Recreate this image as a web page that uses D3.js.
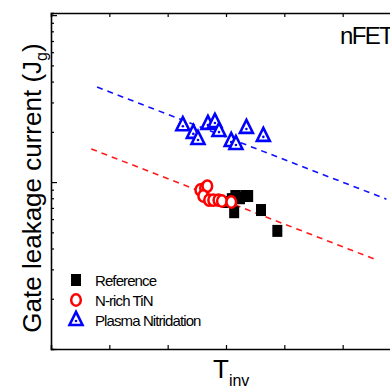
<!DOCTYPE html>
<meta charset="utf-8">
<script src="https://d3js.org/d3.v7.min.js"></script>
<html>
<head>
<style>
  body { margin: 0; background: #fff; }
  svg { font-family: Arial, "Liberation Sans", sans-serif; }
</style>
</head>
<body>
<div id="chart"></div>
<script>
// data (x in tick units, y in decades above the bottom line)
var refX = [3.02, 3.10, 3.16, 3.24, 3.14, 3.33, 3.38, 3.60, 3.88];
var refY = [7.6, 7.9, 8.25, 8.0, 6.6, 8.25, 8.25, 6.8, 5.1];

var tinX = [2.56, 2.64, 2.68, 2.61, 2.71, 2.78, 2.87, 2.93, 3.09];
var tinY = [8.96, 9.2, 9.46, 8.25, 7.8, 7.8, 7.8, 7.7, 7.6];

var plasmaX = [2.26, 2.44, 2.52, 2.69, 2.81, 2.88, 3.09, 3.17, 3.35, 3.64];
var plasmaY = [21.9, 19.7, 18.1, 22.3, 22.9, 20.2, 17.6, 16.9, 21.1, 18.9];

// dashed guide lines, end points
var plasmaFitX = [0.79, 5.75];
var plasmaFitY = [37.1, 7.9];
var tinFitX = [0.69, 5.55];
var tinFitY = [15.8, 3.45];

var xTicks = [1, 2, 3, 4, 5];
var legendLabels = ["Reference", "N-rich TiN", "Plasma Nitridation"];

var width = 390, height = 390;
var margin = {top: 13, left: 51, bottom: 349, right: 401};

var svg = d3.select("#chart")
  .append("svg")
    .attr("width", width)
    .attr("height", height);

var x = d3.scaleLinear().domain([0, 6]).range([margin.left, margin.right]);
var y = d3.scaleLog().domain([1, 103]).range([margin.bottom, margin.top]);

// log ticks: majors at decades, minors in between
var yTicks = [];
[1, 10].forEach(function(d) {
  for (var k = 1; k <= 9; k++) yTicks.push(d * k);
});
yTicks.push(100);

function isMajor(v) { return Math.abs(Math.log10(v) - Math.round(Math.log10(v))) < 1e-6; }

var plot = svg.append("g");

// axes, ticks pointing inward
plot.append("g")
  .attr("transform", "translate(0," + margin.bottom + ")")
  .call(d3.axisBottom(x).tickValues(xTicks).tickSize(-4).tickFormat(""));
plot.append("g")
  .attr("transform", "translate(0," + margin.top + ")")
  .call(d3.axisTop(x).tickValues(xTicks).tickSize(-4).tickFormat(""));

var yAxis = plot.append("g")
  .attr("transform", "translate(" + margin.left + ",0)")
  .call(d3.axisLeft(y).tickValues(yTicks).tickSize(-3).tickFormat(""));
yAxis.selectAll(".tick line")
  .attr("x2", function(d) { return isMajor(d) ? 6 : 3; });

plot.append("g")
  .attr("transform", "translate(" + margin.right + ",0)")
  .call(d3.axisRight(y).tickValues(yTicks).tickSize(-3).tickFormat(""));

plot.selectAll(".domain")
  .attr("stroke", "#000")
  .attr("stroke-width", 1.6);
plot.selectAll(".tick line")
  .attr("stroke", "#000")
  .attr("stroke-width", 1.2);

// dashed trend lines
var line = d3.line()
  .x(function(d) { return x(d[0]); })
  .y(function(d) { return y(d[1]); });

svg.append("path")
  .datum(d3.zip(plasmaFitX, plasmaFitY))
  .attr("d", line)
  .attr("fill", "none")
  .attr("stroke", "#1010ff")
  .attr("stroke-width", 1.6)
  .attr("stroke-dasharray", "6,5");

svg.append("path")
  .datum(d3.zip(tinFitX, tinFitY))
  .attr("d", line)
  .attr("fill", "none")
  .attr("stroke", "#ff1a1a")
  .attr("stroke-width", 1.6)
  .attr("stroke-dasharray", "6,5");

// markers
function drawSquare(g, cx, cy) {
  g.append("rect")
    .attr("x", cx - 5).attr("y", cy - 6)
    .attr("width", 10).attr("height", 12)
    .attr("fill", "#000");
}
function drawCircle(g, cx, cy) {
  g.append("ellipse")
    .attr("cx", cx).attr("cy", cy)
    .attr("rx", 4.8).attr("ry", 5.7)
    .attr("fill", "#fff")
    .attr("stroke", "#ff0000")
    .attr("stroke-width", 2.5);
}
function drawTriangle(g, cx, cy) {
  var w = 13, h = 13;
  g.append("path")
    .attr("d", "M" + cx + "," + (cy - h * 0.62) +
               "L" + (cx + w / 2) + "," + (cy + h * 0.38) +
               "L" + (cx - w / 2) + "," + (cy + h * 0.38) + "Z")
    .attr("fill", "#fff")
    .attr("stroke", "#0000ff")
    .attr("stroke-width", 2.6)
    .attr("stroke-linejoin", "miter");
  g.append("circle")
    .attr("cx", cx).attr("cy", cy + 1)
    .attr("r", 1.3)
    .attr("fill", "#0000ff");
}

var marks = svg.append("g");
refX.forEach(function(d, i) { drawSquare(marks, x(d), y(refY[i])); });
tinX.forEach(function(d, i) { drawCircle(marks, x(d), y(tinY[i])); });
plasmaX.forEach(function(d, i) { drawTriangle(marks, x(d), y(plasmaY[i])); });

// legend
var legend = svg.append("g").attr("transform", "translate(76,280)");
var drawers = [drawSquare, drawCircle, drawTriangle];
legendLabels.forEach(function(label, i) {
  drawers[i](legend, 0, i * 20);
  legend.append("text")
    .attr("x", 19)
    .attr("y", i * 20 + 5.5)
    .attr("font-size", 15)
    .attr("letter-spacing", "-0.9px")
    .attr("fill", "#000")
    .text(label);
});

// nFET label
svg.append("text")
  .attr("x", 340)
  .attr("y", 44)
  .attr("font-size", 24)
  .attr("letter-spacing", "-1.6px")
  .text("nFET");

// axis titles
var yLabel = svg.append("text")
  .attr("transform", "translate(41,188) rotate(-90)")
  .attr("text-anchor", "middle")
  .attr("font-size", 26);
yLabel.append("tspan").text("Gate leakage current (J");
yLabel.append("tspan").attr("font-size", 16).attr("dy", 6).text("g");
yLabel.append("tspan").attr("dy", -6).text(")");

var xLabel = svg.append("text")
  .attr("x", 213)
  .attr("y", 378)
  .attr("font-size", 26);
xLabel.append("tspan").text("T");
xLabel.append("tspan").attr("font-size", 16).attr("dy", 8).text("inv");
</script>
</body>
</html>
